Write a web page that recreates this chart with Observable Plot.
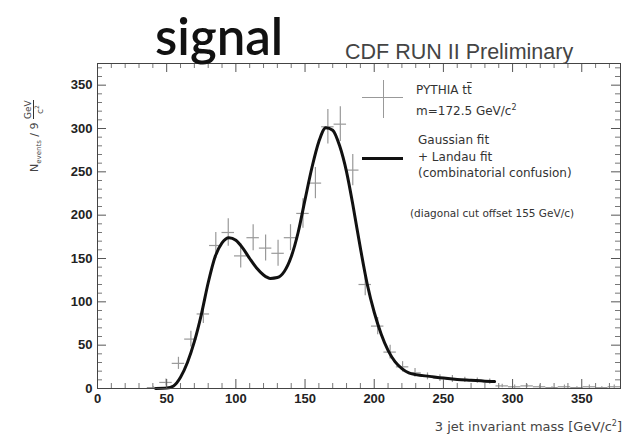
<!DOCTYPE html>
<html><head><meta charset="utf-8">
<script src="https://cdn.jsdelivr.net/npm/d3@7"></script>
<script src="https://cdn.jsdelivr.net/npm/@observablehq/plot@0.6"></script>
<style>
body{margin:0;background:#fff;}
#wrap{position:relative;width:625px;height:441px;overflow:hidden;font-family:"Liberation Sans",Arial,sans-serif;color:#222;background:#fff}
.abs{position:absolute;white-space:nowrap;line-height:1}
.leg{font-family:"DejaVu Sans",sans-serif;font-size:12px;color:#333}
.frac{display:inline-flex;flex-direction:column;align-items:center;vertical-align:middle;font-size:9px;line-height:1}
.frac span:first-child{border-bottom:1px solid #333}
</style></head><body><div id="wrap"></div>
<script>
// Histogram (PYTHIA ttbar, m=172.5), 9 GeV bins
const binCenters = [40.5,49.5,58.5,67.5,76.5,85.5,94.5,103.5,112.5,121.5,130.5,139.5,148.5,157.5,166.5,175.5,184.5,193.5,202.5,211.5,220.5,229.5,238.5,247.5,256.5,265.5,274.5,283.5,292.5,301.5,310.5,319.5,328.5,337.5,346.5,355.5,364.5,373.5];
const counts     = [1,7,29,57,86,165,180,153,174,162,156,174,202,237,302,305,252,120,72,42,25,18,14,12,11,10,9,8,3,2,3,2,1,2,1,2,1,2];
const errors     = [1,4,7,9,11,15,16,14,15,15,15,15,17,18,20,20,18,13,10,8,6,5,4,4,4,3,3,3,2,2,2,2,1,2,1,2,1,2];
const binHalfWidth = 4.5;
// Gaussian + Landau fit curve
const fitMass   = [42,50,55,60,65,70,75,80,85,90,95,100,105,110,115,120,125,130,135,140,145,150,155,160,165,170,175,180,185,190,195,200,205,210,215,220,225,230,240,250,260,270,280,287];
const fitValues = [0,0.5,3,13,30,54,85,122,152,168,174,171,162,150,139,131,127,128,135,152,180,218,255,285,301,298,280,250,208,162,120,88,63,44,31,23,18,16,14,12,10.5,9.5,8.5,8];
// Axis ticks
const xMajorTicks = [0,50,100,150,200,250,300,350];
const xMinorTicks = [10,20,30,40,60,70,80,90,110,120,130,140,160,170,180,190,210,220,230,240,260,270,280,290,310,320,330,340,360,370];
const yMajorTicks = [0,50,100,150,200,250,300,350];
const yMinorTicks = [10,20,30,40,60,70,80,90,110,120,130,140,160,170,180,190,210,220,230,240,260,270,280,290,310,320,330,340,360,370];

const W = 625, H = 441, mL = 97, mR = 5, mT = 63, mB = 53;
const fw = W - mL - mR, fh = H - mT - mB;
const majLen = 9, minLen = 5;

const points = binCenters.map((x, i) => ({x, y: counts[i], e: errors[i]}));
const fit = fitMass.map((x, i) => ({x, y: fitValues[i]}));

const chart = Plot.plot({
  width: W, height: H, marginLeft: mL, marginRight: mR, marginTop: mT, marginBottom: mB,
  x: {domain: [0, 378]},
  y: {domain: [0, 375]},
  style: {fontFamily: "'Liberation Sans', Arial, sans-serif", fontSize: "13px", color: "#222", background: "white"},
  marks: [
    // error bars
    Plot.ruleY(points, {y: "y", x1: d => d.x - binHalfWidth, x2: d => d.x + binHalfWidth, stroke: "#999", strokeWidth: 1.2}),
    Plot.ruleX(points, {x: "x", y1: d => Math.max(0, d.y - d.e), y2: d => d.y + d.e, stroke: "#999", strokeWidth: 1.2}),
    // fit
    Plot.line(fit, {x: "x", y: "y", stroke: "#111", strokeWidth: 3, curve: "monotone-x"}),
    // inward ticks, all four sides
    Plot.tickX(xMajorTicks, {x: d => d, insetTop: fh - majLen, stroke: "#555"}),
    Plot.tickX(xMinorTicks, {x: d => d, insetTop: fh - minLen, stroke: "#777"}),
    Plot.tickX(xMajorTicks, {x: d => d, insetBottom: fh - majLen, stroke: "#555"}),
    Plot.tickX(xMinorTicks, {x: d => d, insetBottom: fh - minLen, stroke: "#777"}),
    Plot.tickY(yMajorTicks, {y: d => d, insetRight: fw - majLen, stroke: "#555"}),
    Plot.tickY(yMinorTicks, {y: d => d, insetRight: fw - minLen, stroke: "#777"}),
    Plot.tickY(yMajorTicks, {y: d => d, insetLeft: fw - majLen, stroke: "#555"}),
    Plot.tickY(yMinorTicks, {y: d => d, insetLeft: fw - minLen, stroke: "#777"}),
    // labels
    Plot.axisX(xMajorTicks, {anchor: "bottom", tickSize: 0, tickPadding: 5, label: null, fontSize: 13, fontWeight: 600}),
    Plot.axisY(yMajorTicks, {anchor: "left", tickSize: 0, tickPadding: 5, label: null, fontSize: 13, fontWeight: 600}),
    Plot.frame({stroke: "#444", strokeWidth: 1})
  ]
});

const wrap = document.getElementById("wrap");
chart.style.position = "absolute";
chart.style.left = "0";
chart.style.top = "0";
wrap.appendChild(chart);

function addDiv(html, css, cls) {
  const d = document.createElement("div");
  d.className = "abs" + (cls ? " " + cls : "");
  d.innerHTML = html;
  d.style.cssText += css;
  wrap.appendChild(d);
  return d;
}
// titles
addDiv("signal", "left:155px;top:10px;font-family:Lato,sans-serif;font-size:51px;font-weight:600;color:#111;");
addDiv("CDF RUN II Preliminary", "left:345px;top:42px;font-size:21.5px;color:#444;");
// axis titles
addDiv("3 jet invariant mass [GeV/c<sup style='font-size:8px'>2</sup>]", "right:3px;top:420px;font-family:'DejaVu Sans',sans-serif;font-size:13px;color:#444;");
addDiv("N<sub style='font-size:7px'>events</sub> / 9 <span class='frac'><span>GeV</span><span>c<sup style='font-size:6px'>2</sup></span></span>",
  "left:24px;top:172px;transform:rotate(-90deg);transform-origin:0 0;font-family:'DejaVu Sans',sans-serif;font-size:11px;color:#444;");
// legend symbols
addDiv("", "left:362px;top:97px;width:41px;height:0;border-top:1.2px solid #999;");
addDiv("", "left:383px;top:80px;width:0;height:38px;border-left:1.2px solid #999;");
addDiv("", "left:362px;top:157px;width:41px;height:0;border-top:3px solid #111;");
// legend texts
addDiv("PYTHIA t<span style='text-decoration:overline'>t</span>", "left:416px;top:84px;", "leg");
addDiv("m=172.5 GeV/c<sup style='font-size:8px'>2</sup>", "left:416px;top:104px;", "leg");
addDiv("Gaussian fit", "left:418px;top:134px;", "leg");
addDiv("+ Landau fit", "left:418px;top:151px;", "leg");
addDiv("(combinatorial confusion)", "left:418px;top:167px;", "leg");
addDiv("(diagonal cut offset 155 GeV/c)", "left:410px;top:208px;font-size:10.5px;", "leg");
</script>
</body></html>
